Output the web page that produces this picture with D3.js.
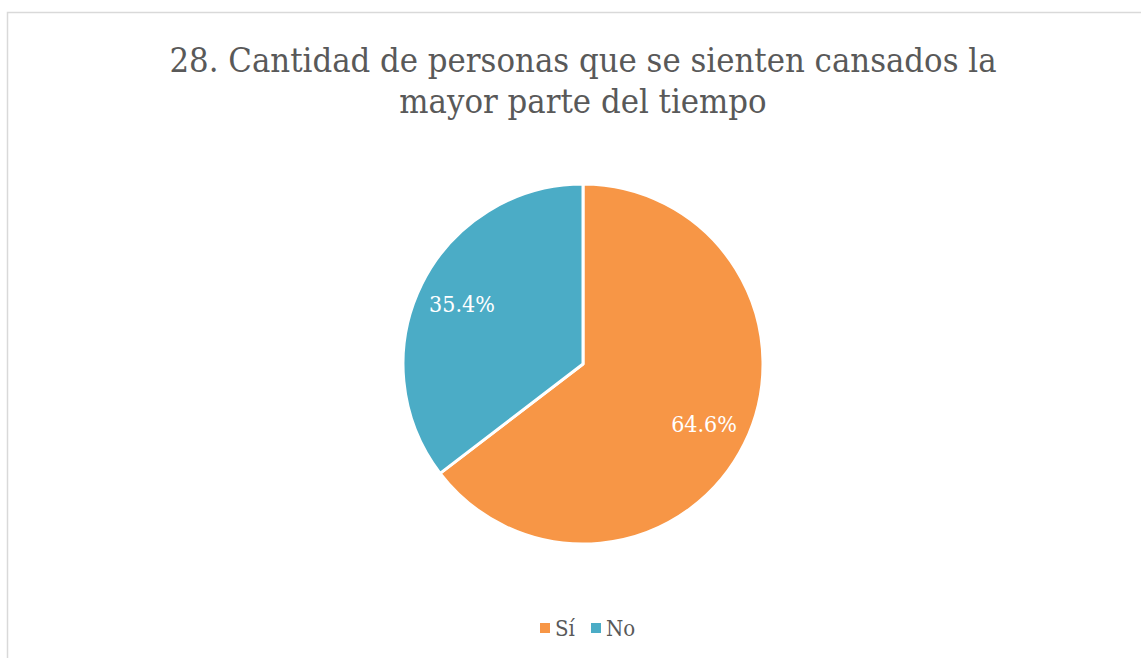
<!DOCTYPE html>
<html><head><meta charset="utf-8">
<script src="https://cdn.jsdelivr.net/npm/d3@7"></script>
<style>body{margin:0;background:#fff;} svg{display:block;}</style>
</head><body>
<svg id="chart" width="1141" height="658"></svg>
<script>
const categories = ["Sí", "No"];
const values = [64.6, 35.4];
const valueLabels = ["64.6%", "35.4%"];
const colors = ["#F79646", "#4BACC6"];
const titleLines = ["28. Cantidad de personas que se sienten cansados la", "mayor parte del tiempo"];

const svg = d3.select("#chart");
const font = "'DejaVu Serif Condensed', 'DejaVu Serif', serif";

svg.append("rect").attr("x", 7.5).attr("y", 12.5).attr("width", 1200).attr("height", 700)
  .attr("fill", "#fff").attr("stroke", "#d9d9d9").attr("stroke-width", 1.5);

svg.append("g").selectAll("text").data(titleLines).join("text")
  .attr("x", 583).attr("y", (d, i) => 72 + i * 41)
  .attr("text-anchor", "middle").attr("fill", "#595959")
  .attr("font-family", font).attr("font-size", 34.3).text(d => d);

const cx = 583, cy = 364, r = 180;
const pie = d3.pie().sort(null).value(d => d);
const arcs = pie(values);
const arc = d3.arc().innerRadius(0).outerRadius(r);
const labelArc = d3.arc().innerRadius(r * 0.75).outerRadius(r * 0.75);
const g = svg.append("g").attr("transform", `translate(${cx},${cy})`);
g.selectAll("path").data(arcs).join("path")
  .attr("d", arc).attr("fill", (d, i) => colors[i])
  .attr("stroke", "#fff").attr("stroke-width", 3).attr("stroke-linejoin", "round");
g.selectAll("text").data(arcs).join("text")
  .attr("transform", d => `translate(${labelArc.centroid(d)})`)
  .attr("text-anchor", "middle").attr("dy", "0.35em")
  .attr("fill", "#fff").attr("font-family", font).attr("font-size", 23)
  .text((d, i) => valueLabels[i]);

const legend = svg.append("g");
const lx = [540, 591];
categories.forEach((c, i) => {
  legend.append("rect").attr("x", lx[i]).attr("y", 623).attr("width", 10).attr("height", 10).attr("fill", colors[i]);
  legend.append("text").attr("x", lx[i] + 15).attr("y", 636).attr("fill", "#595959")
    .attr("font-family", font).attr("font-size", 22).text(c);
});
</script>
</body></html>
